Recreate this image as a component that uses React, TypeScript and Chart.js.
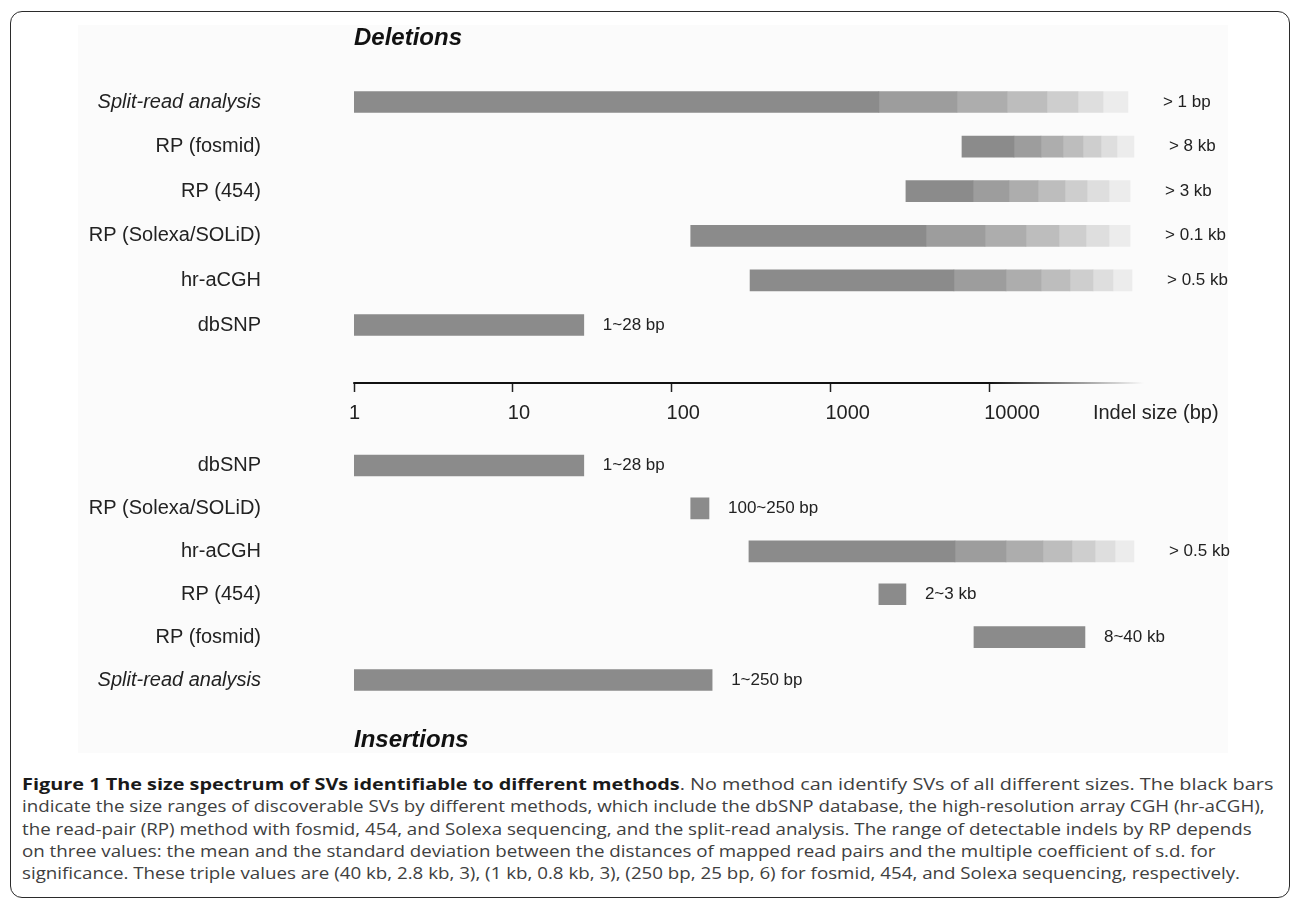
import React, { useEffect, useLayoutEffect, useRef, useState } from 'react';
import { Chart, registerables } from 'chart.js';

Chart.register(...registerables);

const FONT = "'Liberation Sans', Arial, Helvetica, sans-serif";

// Deletions block, top to bottom. A bounds list is either [start, end] (solid bar)
// or the edges of the dark part followed by the six fading steps.
const DEL_METHODS = ['Split-read analysis', 'RP (fosmid)', 'RP (454)', 'RP (Solexa/SOLiD)', 'hr-aCGH', 'dbSNP'];
const DEL_BOUNDS = [
  [1, 2020, 6270, 12950, 23100, 36250, 52100, 74800],
  [6740, 14330, 21200, 29150, 38950, 50600, 63800, 81600],
  [2990, 7910, 13330, 20300, 30000, 41300, 56800, 77100],
  [132, 4000, 9410, 17050, 27500, 40700, 56800, 77100],
  [312, 6000, 12760, 21200, 32260, 45050, 60200, 79300],
  [1, 28],
];
const DEL_NOTES = ['> 1 bp', '> 8 kb', '> 3 kb', '> 0.1 kb', '> 0.5 kb', '1~28 bp'];

// Insertions block, top to bottom
const INS_METHODS = ['dbSNP', 'RP (Solexa/SOLiD)', 'hr-aCGH', 'RP (454)', 'RP (fosmid)', 'Split-read analysis'];
const INS_BOUNDS = [
  [1, 28],
  [132, 172],
  [307, 6090, 12760, 21800, 33200, 46400, 62000, 81600],
  [2020, 2990],
  [8020, 40100],
  [1, 180],
];
const INS_NOTES = ['1~28 bp', '100~250 bp', '> 0.5 kb', '2~3 kb', '8~40 kb', '1~250 bp'];

const AXIS_VALUES = [1, 10, 100, 1000, 10000];
const AXIS_TITLE = 'Indel size (bp)';
const AXIS_TITLE_AT = 48400;

// dark part first, then the fading steps
const SHADES = ['#8b8b8b', '#9d9d9d', '#adadad', '#bdbdbd', '#cecece', '#dedede', '#ececec'];

// row slots on the y scale
const AXIS_SLOT = 6.3;
const INS_FIRST = 8.15;
const INS_STEP = 0.962;

const rows = [
  ...DEL_METHODS.map((m, i) => ({ label: m, bounds: DEL_BOUNDS[i], note: DEL_NOTES[i], slot: i })),
  ...INS_METHODS.map((m, i) => ({ label: m, bounds: INS_BOUNDS[i], note: INS_NOTES[i], slot: INS_FIRST + i * INS_STEP })),
];

const CAPTION_LINES = [
  'indicate the size ranges of discoverable SVs by different methods, which include the dbSNP database, the high-resolution array CGH (hr-aCGH),',
  'the read-pair (RP) method with fosmid, 454, and Solexa sequencing, and the split-read analysis. The range of detectable indels by RP depends',
  'on three values: the mean and the standard deviation between the distances of mapped read pairs and the multiple coefficient of s.d. for',
  'significance. These triple values are (40 kb, 2.8 kb, 3), (1 kb, 0.8 kb, 3), (250 bp, 25 bp, 6) for fosmid, 454, and Solexa sequencing, respectively.',
];
// widths of the first two caption lines in the figure
const CAPTION_HEAD_WIDTH = 1251;
const CAPTION_BODY_WIDTH = 1243;

const overlayPlugin = {
  id: 'overlay',
  afterDatasetsDraw(chart: any) {
    const { ctx, chartArea } = chart;
    const x = chart.scales.x;
    const y = chart.scales.y;

    // axis line, fading out after the last decade
    const ay = y.getPixelForValue(AXIS_SLOT);
    const x0 = x.getPixelForValue(AXIS_VALUES[0]);
    const x1 = x.getPixelForValue(AXIS_VALUES[AXIS_VALUES.length - 1]);
    const grad = ctx.createLinearGradient(x0, 0, chartArea.right, 0);
    grad.addColorStop(0, '#111');
    grad.addColorStop((x1 - x0) / (chartArea.right - x0), '#111');
    grad.addColorStop(1, 'rgba(17,17,17,0)');
    ctx.save();
    ctx.strokeStyle = grad;
    ctx.lineWidth = 2;
    ctx.beginPath();
    ctx.moveTo(x0 - 0.75, ay);
    ctx.lineTo(chartArea.right, ay);
    ctx.stroke();

    // range notes right of the bars
    ctx.font = `17px ${FONT}`;
    ctx.fillStyle = '#222';
    ctx.textBaseline = 'middle';
    rows.forEach((r) => {
      const end = r.bounds[r.bounds.length - 1];
      const gap = r.bounds.length > 2 ? 35 : 19;
      ctx.fillText(r.note, x.getPixelForValue(end) + gap, y.getPixelForValue(r.slot));
    });
    ctx.restore();
  },
};

const App: React.FC = () => {
  const canvasRef = useRef<HTMLCanvasElement>(null);
  const headRef = useRef<HTMLDivElement>(null);
  const bodyRef = useRef<HTMLDivElement>(null);
  const [stretch, setStretch] = useState<[number, number]>([1, 1]);

  // stretch the caption lines to the widths they have in the figure
  useLayoutEffect(() => {
    if (!headRef.current || !bodyRef.current) return;
    const hw = headRef.current.scrollWidth;
    const bw = bodyRef.current.scrollWidth;
    if (hw > 0 && bw > 0) setStretch([CAPTION_HEAD_WIDTH / hw, CAPTION_BODY_WIDTH / bw]);
  }, []);

  useEffect(() => {
    if (!canvasRef.current) return;
    const ctx = canvasRef.current.getContext('2d');
    if (!ctx) return;

    const datasets = SHADES.map((color, k) => ({
      data: rows
        .filter((r) => r.bounds.length > k + 1)
        .map((r) => ({ y: r.slot, x: [r.bounds[k], r.bounds[k + 1]] })),
      backgroundColor: color,
      borderWidth: 0,
      barThickness: 21,
      grouped: false,
    }));

    const tickValues = [...AXIS_VALUES, AXIS_TITLE_AT];
    const titleFont = { family: FONT, size: 24, weight: 'bold' as const, style: 'italic' as const };

    const chart = new Chart(ctx, {
      type: 'bar',
      data: { datasets: datasets as any },
      options: {
        indexAxis: 'y',
        animation: false,
        responsive: true,
        maintainAspectRatio: false,
        layout: { padding: { top: 23.6, bottom: 14.8, left: 0, right: 146 } },
        plugins: {
          legend: { display: false },
          tooltip: { enabled: false },
          title: {
            display: true,
            text: 'Deletions',
            align: 'start',
            fullSize: false,
            color: '#111',
            font: titleFont,
            padding: { top: 0, bottom: 5 },
          },
          subtitle: {
            display: true,
            text: 'Insertions',
            position: 'bottom',
            align: 'start',
            fullSize: false,
            color: '#111',
            font: titleFont,
            padding: { top: 0, bottom: 0 },
          },
        },
        scales: {
          x: {
            type: 'logarithmic',
            min: 1,
            max: 94400,
            position: { y: AXIS_SLOT } as any,
            afterBuildTicks: (s: any) => {
              s.ticks = tickValues.map((v) => ({ value: v }));
            },
            afterFit: (s: any) => {
              s.height = 0;
              s.paddingTop = 0;
              s.paddingBottom = 0;
              s.paddingLeft = 0;
              s.paddingRight = 0;
            },
            ticks: {
              align: 'start',
              labelOffset: -5,
              autoSkip: false,
              maxRotation: 0,
              padding: 10,
              color: '#222',
              font: { family: FONT, size: 20 },
              callback: (_v: any, i: number) => (i < AXIS_VALUES.length ? String(AXIS_VALUES[i]) : AXIS_TITLE),
            },
            grid: {
              drawOnChartArea: false,
              drawTicks: true,
              tickLength: 9,
              tickWidth: 1.5,
              tickColor: (c: any) => (c.tick && c.tick.value > AXIS_VALUES[AXIS_VALUES.length - 1] ? 'rgba(0,0,0,0)' : '#222'),
            },
            border: { display: false },
          },
          y: {
            type: 'linear',
            reverse: true,
            offset: false,
            min: -1,
            max: 14,
            afterBuildTicks: (s: any) => {
              s.ticks = rows.map((r) => ({ value: r.slot }));
            },
            afterFit: (s: any) => {
              s.width = 354;
              s.paddingTop = 0;
              s.paddingBottom = 0;
            },
            ticks: {
              padding: 93,
              color: '#222',
              autoSkip: false,
              crossAlign: 'near',
              font: (c: any) => ({
                family: FONT,
                size: 20,
                style: rows[c.index] && rows[c.index].label.startsWith('Split-read') ? 'italic' : 'normal',
              }),
              callback: (_v: any, i: number) => rows[i].label,
            },
            grid: { display: false, drawTicks: false },
            border: { display: false },
          },
        },
      },
      plugins: [overlayPlugin],
    });

    return () => {
      chart.destroy();
    };
  }, []);

  const lineStyle = (k: number): React.CSSProperties => ({
    transform: `scaleX(${k})`,
    transformOrigin: 'left center',
    width: 'max-content',
  });

  return (
    <div style={{ position: 'absolute', left: 0, top: 0, width: 1290, height: 902, background: '#fff', overflow: 'hidden' }}>
      <div
        style={{
          position: 'absolute',
          left: 10,
          top: 11,
          width: 1280,
          height: 887,
          boxSizing: 'border-box',
          border: '1.5px solid #2b2b2b',
          borderRadius: 12,
        }}
      />
      <div style={{ position: 'absolute', left: 78, top: 25, width: 1150, height: 728, background: '#fbfbfb' }} />
      <div style={{ position: 'absolute', left: 0, top: 0, width: 1290, height: 770 }}>
        <canvas ref={canvasRef} />
      </div>
      <div
        style={{
          position: 'absolute',
          left: 22,
          top: 773,
          fontFamily: "'Open Sans', 'Noto Sans', sans-serif",
          fontSize: 16,
          lineHeight: '22.3px',
          color: '#404040',
          whiteSpace: 'nowrap',
        }}
      >
        <div ref={headRef} style={lineStyle(stretch[0])}>
          <span style={{ fontWeight: 700, color: '#1a1a1a' }}>
            Figure 1 The size spectrum of SVs identifiable to different methods
          </span>
          . No method can identify SVs of all different sizes. The black bars
        </div>
        {CAPTION_LINES.map((line, i) => (
          <div key={line} ref={i === 0 ? bodyRef : undefined} style={lineStyle(stretch[1])}>
            {line}
          </div>
        ))}
      </div>
    </div>
  );
};

export default App;
